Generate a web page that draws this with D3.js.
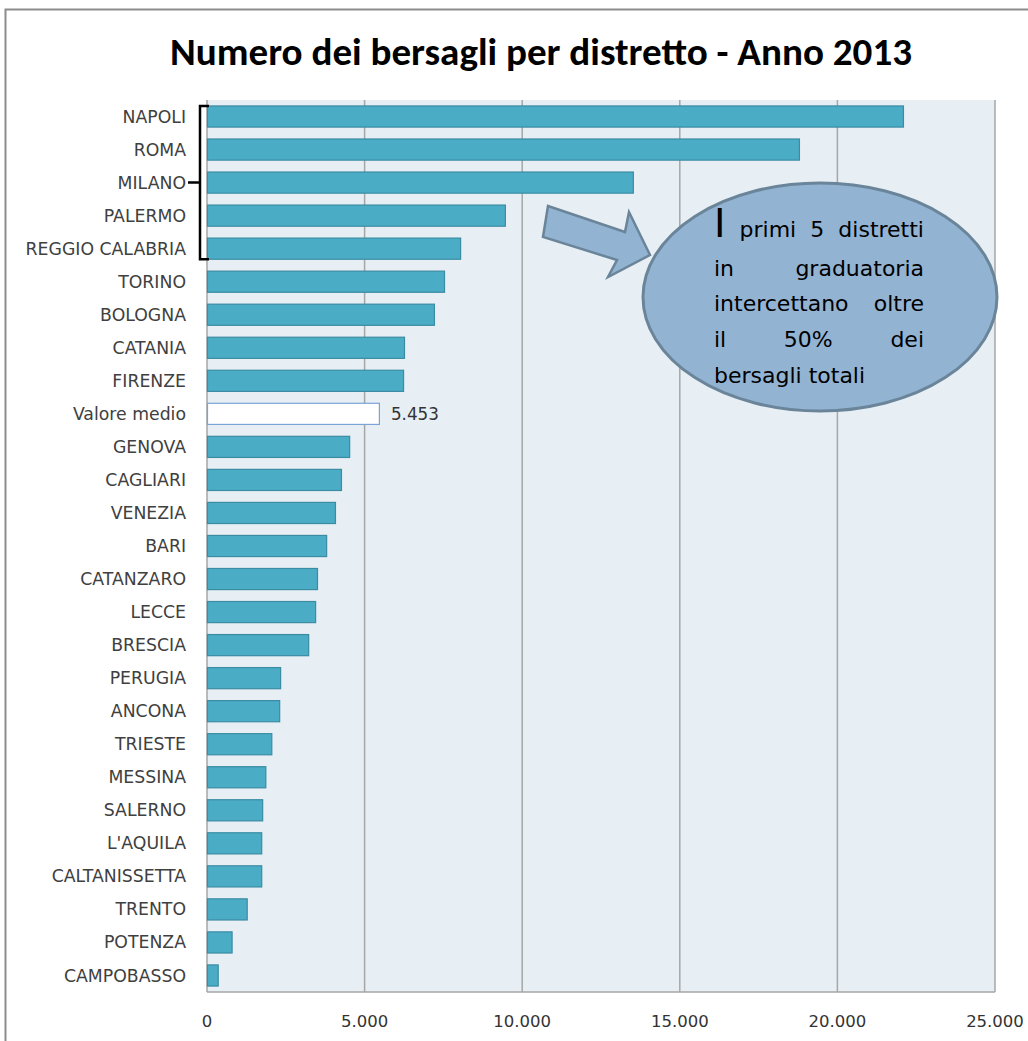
<!DOCTYPE html>
<html><head><meta charset="utf-8">
<script src="https://cdn.jsdelivr.net/npm/d3@7"></script>
<style>body{margin:0;background:#fff;}svg{display:block;}</style>
</head><body>
<script>
const categories = ["NAPOLI","ROMA","MILANO","PALERMO","REGGIO CALABRIA","TORINO","BOLOGNA","CATANIA","FIRENZE","Valore medio","GENOVA","CAGLIARI","VENEZIA","BARI","CATANZARO","LECCE","BRESCIA","PERUGIA","ANCONA","TRIESTE","MESSINA","SALERNO","L'AQUILA","CALTANISSETTA","TRENTO","POTENZA","CAMPOBASSO"];
const values = [22080,18780,13510,9450,8030,7520,7200,6250,6220,5453,4510,4250,4060,3780,3490,3430,3210,2320,2290,2040,1850,1750,1720,1720,1260,780,340];
const meanLabel = "Valore medio";
const tickValues = [0,5000,10000,15000,20000,25000];
const tickLabels = ["0","5.000","10.000","15.000","20.000","25.000"];
const title = "Numero dei bersagli per distretto - Anno 2013";
const calloutLines = [["I","primi","5","distretti"],["in","graduatoria"],["intercettano","oltre"],["il","50%","dei"],["bersagli totali"]];

const W = 1028, H = 1041;
const svg = d3.select("body").append("svg").attr("width",W).attr("height",H);
const m = {left:207, right:995, top:100, bottom:992};

// outer frame
svg.append("rect").attr("x",5.5).attr("y",9.5).attr("width",1100).attr("height",1100)
  .attr("fill","#fff").attr("stroke","#8c8c8c").attr("stroke-width",2);

// title
svg.append("text").attr("x",541).attr("y",65).attr("text-anchor","middle")
  .attr("font-family","Carlito, Calibri, 'Liberation Sans Narrow', 'DejaVu Sans Condensed', sans-serif").attr("font-weight","bold")
  .attr("font-size",38).attr("fill","#000")
  .attr("textLength",742).attr("lengthAdjust","spacingAndGlyphs").text(title);

const x = d3.scaleLinear().domain([0,25000]).range([m.left,m.right]);
const y = d3.scaleBand().domain(categories).range([m.top,m.bottom]).paddingInner(0.36).paddingOuter(0.18);

// plot bg
svg.append("rect").attr("x",m.left).attr("y",m.top).attr("width",m.right-m.left).attr("height",m.bottom-m.top)
  .attr("fill","#e8eff4");

// grid
svg.append("g").selectAll("line").data(tickValues.slice(1)).join("line")
  .attr("x1",d=>x(d)).attr("x2",d=>x(d)).attr("y1",m.top).attr("y2",m.bottom)
  .attr("stroke","#a6a6a6").attr("stroke-width",1.5);

// axes lines
svg.append("line").attr("x1",m.left).attr("x2",m.left).attr("y1",m.top).attr("y2",m.bottom).attr("stroke","#a6a6a6").attr("stroke-width",1.5);
svg.append("line").attr("x1",m.left).attr("x2",m.right).attr("y1",m.bottom).attr("y2",m.bottom).attr("stroke","#a6a6a6").attr("stroke-width",1.5);

// bars
svg.append("g").selectAll("rect").data(categories).join("rect")
  .attr("x",x(0)+0.5).attr("y",d=>y(d))
  .attr("width",(d,i)=>x(values[i])-x(0)).attr("height",y.bandwidth())
  .attr("fill",d=>d===meanLabel?"#ffffff":"#4bacc6")
  .attr("stroke",d=>d===meanLabel?"#7ba3d6":"#3a8ca3").attr("stroke-width",1.2);

// mean value label
const mi = categories.indexOf(meanLabel);
svg.append("text").attr("x",x(values[mi])+12).attr("y",y(meanLabel)+y.bandwidth()/2).attr("dy","0.35em")
  .attr("font-family","'DejaVu Sans', sans-serif").attr("font-size",16.8).attr("fill","#333")
  .text(d3.format(",")(values[mi]).replace(/,/g,"."));

// y labels
svg.append("g").selectAll("text").data(categories).join("text")
  .attr("x",186).attr("y",d=>y(d)+y.bandwidth()/2).attr("dy","0.35em").attr("text-anchor","end")
  .attr("font-family","'DejaVu Sans', sans-serif").attr("font-size",17.3).attr("fill","#404040")
  .text(d=>d);

// x tick labels
svg.append("g").selectAll("text").data(tickValues).join("text")
  .attr("x",d=>x(d)).attr("y",1027).attr("text-anchor","middle")
  .attr("font-family","'DejaVu Sans', sans-serif").attr("font-size",16.5).attr("fill","#333")
  .text((d,i)=>tickLabels[i]);

// bracket around top 5
const bTop = y(categories[0]), bBot = y(categories[4])+y.bandwidth();
const bMid = y(categories[2])+y.bandwidth()/2;
svg.append("path").attr("d",`M209,${bTop}H200V${bBot}H209M200,${bMid}H188`)
  .attr("fill","none").attr("stroke","#000").attr("stroke-width",2.5);

// arrow
svg.append("path").attr("d","M548,206 L625,232 L629,212 L650,255 L608,277 L617,260 L543,237 Z")
  .attr("fill","#93b3d3").attr("stroke","#6a8599").attr("stroke-width",2.5).attr("stroke-linejoin","miter");

// ellipse
svg.append("ellipse").attr("cx",820).attr("cy",297).attr("rx",177).attr("ry",114)
  .attr("fill","#93b3d3").attr("stroke","#6a8599").attr("stroke-width",3);

// callout text (justified)
const ff = "'DejaVu Sans', sans-serif";
const L = 714, R = 924;
const baselines = [237,276,311,347,383];
const g = svg.append("g").attr("font-family",ff).attr("fill","#000");
calloutLines.forEach((words,li)=>{
  const sizes = words.map((w,wi)=> (li===0&&wi===0)?39:22);
  const tmp = words.map((w,wi)=>{
    const t = g.append("text").attr("font-size",sizes[wi]).attr("y",baselines[li]).text(w);
    return t;
  });
  if (li===calloutLines.length-1) { tmp[0].attr("x",L); return; }
  const widths = tmp.map(t=>t.node().getComputedTextLength());
  const total = d3.sum(widths);
  const gap = (R-L-total)/(words.length-1);
  let cx = L;
  tmp.forEach((t,i)=>{ t.attr("x",cx); cx += widths[i]+gap; });
});
</script>
</body></html>
